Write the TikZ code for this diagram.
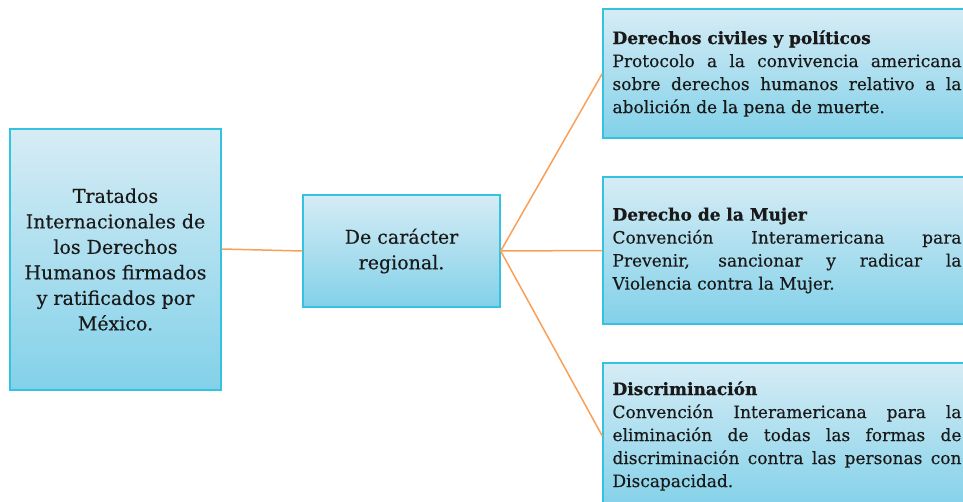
\documentclass[tikz,border=0pt]{standalone}
\usepackage{fontspec}
\setmainfont{DejaVu Serif}[UprightFeatures={FakeBold=0.4},BoldFeatures={FakeBold=0.8}]
\usepackage{tikz}
\definecolor{boxtop}{RGB}{214,236,245}
\definecolor{boxbottom}{RGB}{130,209,233}
\definecolor{boxline}{RGB}{52,194,224}
\definecolor{linkorange}{RGB}{249,160,88}
\def\branchx{787}
\def\branchwd{349pt}

\begin{document}
\begin{tikzpicture}[x=1pt,y=-1pt,draw=linkorange,line width=1.5pt]
            \tikzstyle{treaty}=[draw=boxline,line width=1.4pt,top color=boxtop,bottom color=boxbottom,inner sep=0pt,text=black!90]
            \tikzstyle{main treaty}=[treaty,align=center,font=\fontsize{19}{25.5}\selectfont]
            \tikzstyle{branch treaty}=[treaty,text width=\branchwd,inner xsep=9.5pt,align=justify,font=\fontsize{17}{23}\selectfont]

            \clip (0,0) rectangle (963,501);

            % Root and middle boxes
            \node[main treaty, minimum width=211pt, minimum height=261pt] (T) at (115.5,259.5)
                {Tratados\\Internacionales de\\los Derechos\\Humanos firmados\\y ratificados por\\México.};
            \node[main treaty, minimum width=197pt, minimum height=112pt] (R) at (401.5,251)
                {De carácter\\regional.};

            % Draw the branch boxes
            \node[branch treaty, minimum height=129pt] (B-1) at (\branchx,73.5)
                {\textbf{Derechos civiles y políticos}\\Protocolo a la convivencia americana\linebreak sobre derechos humanos relativo a la\linebreak abolición de la pena de muerte.};
            \node[branch treaty, minimum height=147pt] (B-2) at (\branchx,250.5)
                {\textbf{Derecho de la Mujer}\\Convención Interamericana para\linebreak Prevenir, sancionar y radicar la\linebreak Violencia contra la Mujer.};
            \node[branch treaty, minimum height=146pt] (B-3) at (\branchx,436)
                {\textbf{Discriminación}\\Convención Interamericana para la\linebreak eliminación de todas las formas de\linebreak discriminación contra las personas con\linebreak Discapacidad.};

            % Connect the root with the middle box
            \path ([yshift=10.5pt]T.east) edge (R.west);

            % Connect the middle box with every branch
            \foreach \dest in {1,...,3}
                \path (R.east) edge (B-\dest.west);
        \end{tikzpicture}
\end{document}
